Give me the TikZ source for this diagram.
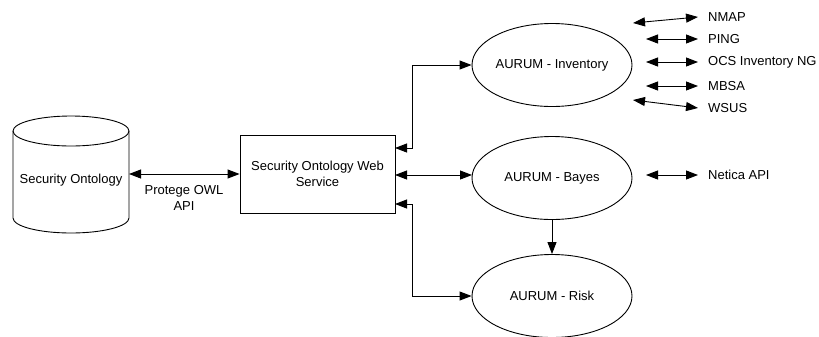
\documentclass[tikz,border=0pt]{standalone}
\usepackage{fontspec}
\setmainfont{Liberation Sans}
\usetikzlibrary{arrows.meta,shapes.geometric}
\begin{document}
\begin{tikzpicture}[x=1bp,y=-1bp,
  every node/.style={font=\fontsize{13bp}{15.5bp}\selectfont},
  line/.style={line width=0.9bp},
  dbl/.style={line, {Triangle[length=12bp,width=9bp]}-{Triangle[length=12bp,width=9bp]}},
  sgl/.style={line, -{Triangle[length=12bp,width=9bp]}},
  ell/.style={draw, line, ellipse, minimum width=160bp, minimum height=83bp, inner sep=0pt},
  lbl/.style={anchor=west, inner sep=0pt}]
\useasboundingbox (0,0) rectangle (819,336);
% cylinder
\draw[line] (13,131) -- (13,218) arc[start angle=180,end angle=360,x radius=58,y radius=-15] -- (129,131);
\draw[line] (71,131) ellipse[x radius=58,y radius=15];
\node (db) at (71,180) {Security Ontology};
\coordinate (dbE) at (129,174);
% box
\node[draw, line, minimum width=155bp, minimum height=78bp, align=center, inner sep=0pt] (ws) at (317.5,174) {Security Ontology Web\\Service};
\node[align=center] (api) at (184,198) {Protege OWL\\API};
\draw[dbl] (dbE) -- (ws.west);
% ellipses
\node[ell] (inv) at (552,65) {AURUM - Inventory};
\node[ell] (bay) at (552,178) {AURUM - Bayes};
\node[ell] (risk) at (552,296) {AURUM - Risk};
\coordinate (wsA) at (395,148);
\coordinate (wsB) at (395,175);
\coordinate (wsC) at (395,204);
\coordinate (bayW) at (472,175);
\draw[dbl] (wsA) -- (412,148) |- (inv.west);
\draw[dbl] (wsB) -- (bayW);
\draw[dbl] (wsC) -- (412,204) |- (risk.west);
\draw[sgl] (bay.south) -- (risk.north);
% tools
\node[lbl] (nmap) at (708,17) {NMAP};
\node[lbl] (ping) at (708,39) {PING};
\node[lbl] (ocs) at (708,62) {OCS Inventory NG};
\node[lbl] (mbsa) at (708,86) {MBSA};
\node[lbl] (wsus) at (708,108) {WSUS};
\node[lbl] (net) at (708,175) {Netica API};
\coordinate (a1) at (633,23);
\coordinate (b1) at (698,17);
\coordinate (a2) at (646,39);
\coordinate (b2) at (698,39);
\coordinate (a3) at (646,62);
\coordinate (b3) at (698,62);
\coordinate (a4) at (646,86);
\coordinate (b4) at (698,86);
\coordinate (a5) at (633,100);
\coordinate (b5) at (698,108);
\coordinate (a6) at (646,175);
\coordinate (b6) at (698,175);
\draw[dbl] (a1) -- (b1);
\draw[dbl] (a2) -- (b2);
\draw[dbl] (a3) -- (b3);
\draw[dbl] (a4) -- (b4);
\draw[dbl] (a5) -- (b5);
\draw[dbl] (a6) -- (b6);
\end{tikzpicture}
\end{document}
